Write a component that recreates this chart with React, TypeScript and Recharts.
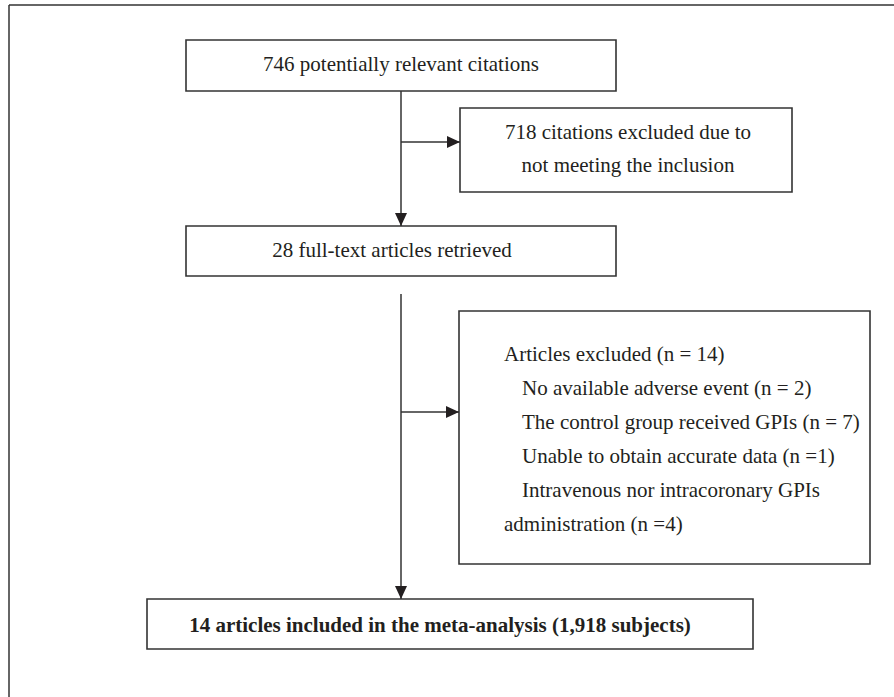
import React from 'react';
import { ComposedChart, XAxis, YAxis, ReferenceArea, ReferenceLine, Scatter } from 'recharts';

const W = 894;
const H = 697;

// Boxes of the flow diagram (diagram units = pixels of the reference)
const boxLeft = [186, 460, 186, 459, 147];
const boxRight = [616, 792, 616, 870, 753];
const boxTop = [40, 108, 226, 311, 599];
const boxBottom = [91, 192, 276, 564, 649];

// Connector segments
const segX1 = [401, 401, 401, 401];
const segY1 = [91, 142, 294, 412];
const segX2 = [401, 460, 401, 459];
const segY2 = [226, 142, 599, 412];
const segDir = ['down', 'right', 'down', 'right'];

// Frame lines
const frameX1 = [9, 9];
const frameY1 = [5, 5];
const frameX2 = [894, 9];
const frameY2 = [5, 697];

// Centered labels
const centerTexts = [
  '746 potentially relevant citations',
  '718 citations excluded due to',
  'not meeting the inclusion',
  '28 full-text articles retrieved',
];
const centerX = [401, 628, 628, 392];
const centerY = [71, 139, 172, 257];

// Left-aligned exclusion list
const listTexts = [
  'Articles excluded (n = 14)',
  'No available adverse event (n = 2)',
  'The control group received GPIs (n = 7)',
  'Unable to obtain accurate data (n =1)',
  'Intravenous nor intracoronary GPIs',
  'administration (n =4)',
];
const listX = [504, 522, 522, 522, 522, 504];
const listY = [361, 395, 429, 463, 497, 531];

// Bold conclusion
const finalText = ['14 articles included in the meta-analysis (1,918 subjects)'];
const finalX = [440];
const finalY = [632];

const INK = '#231f20';
const LINE = '#333333';
const FONT = '"Liberation Serif", "Times New Roman", serif';
const FS = 21;

const boxes = boxLeft.map((l, i) => ({ x1: l, x2: boxRight[i], y1: boxTop[i], y2: boxBottom[i] }));
const segs = segX1.map((x, i) => ({ x1: x, y1: segY1[i], x2: segX2[i], y2: segY2[i], dir: segDir[i] }));
const frames = frameX1.map((x, i) => ({ x1: x, y1: frameY1[i], x2: frameX2[i], y2: frameY2[i] }));
const arrowData = segs.map((s) => ({ x: s.x2, y: s.y2, dir: s.dir }));
const centerData = centerTexts.map((t, i) => ({ x: centerX[i], y: centerY[i], text: t }));
const listData = listTexts.map((t, i) => ({ x: listX[i], y: listY[i], text: t }));
const finalData = finalText.map((t, i) => ({ x: finalX[i], y: finalY[i], text: t }));

const ArrowHead = (props: any) => {
  const { cx, cy, payload } = props;
  const L = 13;
  const h = 6;
  const pts =
    payload.dir === 'down'
      ? `${cx},${cy} ${cx - h},${cy - L} ${cx + h},${cy - L}`
      : `${cx},${cy} ${cx - L},${cy - h} ${cx - L},${cy + h}`;
  return <polygon points={pts} fill={INK} />;
};

const makeText = (anchor: 'start' | 'middle', bold: boolean) => (props: any) => {
  const { cx, cy, payload } = props;
  return (
    <text
      x={cx}
      y={cy}
      textAnchor={anchor}
      fontFamily={FONT}
      fontSize={FS}
      fontWeight={bold ? 700 : 400}
      fill={INK}
    >
      {payload.text}
    </text>
  );
};

export default function App() {
  return (
    <div style={{ position: 'absolute', left: 0, top: 0, width: W, height: H, background: '#fff' }}>
      <ComposedChart width={W} height={H} margin={{ top: 0, right: 0, bottom: 0, left: 0 }}>
        <XAxis type="number" dataKey="x" domain={[0, W]} hide allowDataOverflow />
        <YAxis type="number" dataKey="y" domain={[0, H]} hide reversed allowDataOverflow />
        {frames.map((f, i) => (
          <ReferenceLine
            key={`f${i}`}
            segment={[{ x: f.x1, y: f.y1 }, { x: f.x2, y: f.y2 }]}
            stroke={LINE}
            strokeWidth={1.5}
            ifOverflow="visible"
          />
        ))}
        {boxes.map((b, i) => (
          <ReferenceArea
            key={`b${i}`}
            x1={b.x1}
            x2={b.x2}
            y1={b.y1}
            y2={b.y2}
            fill="#ffffff"
            fillOpacity={1}
            stroke={LINE}
            strokeWidth={1.6}
            ifOverflow="visible"
          />
        ))}
        {segs.map((s, i) => (
          <ReferenceLine
            key={`s${i}`}
            segment={[{ x: s.x1, y: s.y1 }, { x: s.x2, y: s.y2 }]}
            stroke={LINE}
            strokeWidth={1.5}
            ifOverflow="visible"
          />
        ))}
        <Scatter data={arrowData} dataKey="y" shape={ArrowHead} isAnimationActive={false} />
        <Scatter data={centerData} dataKey="y" shape={makeText('middle', false)} isAnimationActive={false} />
        <Scatter data={listData} dataKey="y" shape={makeText('start', false)} isAnimationActive={false} />
        <Scatter data={finalData} dataKey="y" shape={makeText('middle', true)} isAnimationActive={false} />
      </ComposedChart>
    </div>
  );
}
